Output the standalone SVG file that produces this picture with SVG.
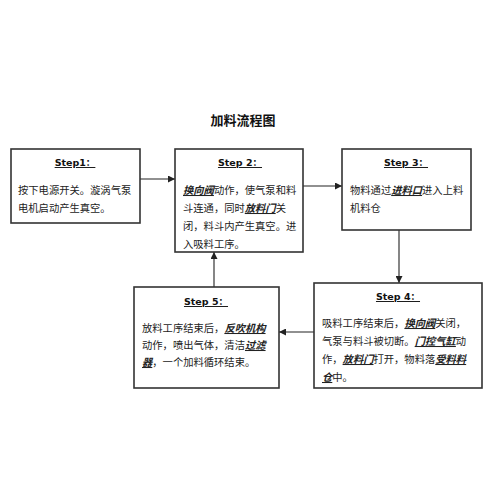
<svg xmlns="http://www.w3.org/2000/svg" width="500" height="500" viewBox="0 0 500 500">
<defs>
<marker id="ah" viewBox="0 0 10 10" refX="10" refY="5" markerWidth="7" markerHeight="7" orient="auto" markerUnits="userSpaceOnUse">
<path d="M0,0 L10,5 L0,10 z" fill="#222"/>
</marker>
<style>
.box{fill:#fff;stroke:#333;stroke-width:1.6}
.title{font-family:"Noto Sans CJK SC","Noto Sans",sans-serif;font-size:13px;font-weight:bold;fill:#111}
.step{font-family:"DejaVu Sans","Noto Sans CJK SC",sans-serif;font-size:9.5px;font-weight:bold;fill:#111;text-decoration:underline}
.body{font-family:"Noto Sans CJK SC","Noto Sans",sans-serif;font-size:10.3px;fill:#222}
.em{font-weight:bold;font-style:italic;text-decoration:underline}
.conn{stroke:#222;stroke-width:1.1;fill:none;marker-end:url(#ah)}
</style>
</defs>
<rect width="500" height="500" fill="#fff"/>
<text class="title" x="243" y="125" text-anchor="middle">加料流程图</text>

<g id="connectors">
<line class="conn" x1="140" y1="179" x2="175" y2="179"/>
<line class="conn" x1="303" y1="186" x2="342" y2="186"/>
<line class="conn" x1="399" y1="230" x2="399" y2="283"/>
<line class="conn" x1="314" y1="332" x2="279" y2="332"/>
<line class="conn" x1="214" y1="287" x2="214" y2="252"/>
</g>

<g id="step1">
<rect class="box" x="11" y="149" width="129" height="74"/>
<text class="step" x="75" y="166" text-anchor="middle">Step1：</text>
<text class="body" x="18" y="194">按下电源开关。漩涡气泵</text>
<text class="body" x="18" y="212">电机启动产生真空。</text>
</g>

<g id="step2">
<rect class="box" x="175" y="149" width="128" height="103"/>
<text class="step" x="240" y="166" text-anchor="middle">Step 2：</text>
<text class="body" x="183" y="194"><tspan class="em">换向阀</tspan>动作，使气泵和料</text>
<text class="body" x="183" y="212">斗连通，同时<tspan class="em">放料门</tspan>关</text>
<text class="body" x="183" y="230">闭，料斗内产生真空。进</text>
<text class="body" x="183" y="248">入吸料工序。</text>
</g>

<g id="step3">
<rect class="box" x="342" y="149" width="129" height="81"/>
<text class="step" x="406" y="166" text-anchor="middle">Step 3：</text>
<text class="body" x="350" y="194">物料通过<tspan class="em">进料口</tspan>进入上料</text>
<text class="body" x="350" y="212">机料仓</text>
</g>

<g id="step4">
<rect class="box" x="314" y="283" width="168" height="105"/>
<text class="step" x="398" y="300" text-anchor="middle">Step 4：</text>
<text class="body" x="322" y="327">吸料工序结束后，<tspan class="em">换向阀</tspan>关闭，</text>
<text class="body" x="322" y="345">气泵与料斗被切断。<tspan class="em">门控气缸</tspan>动</text>
<text class="body" x="322" y="363">作，<tspan class="em">放料门</tspan>打开，物料落<tspan class="em">受料料</tspan></text>
<text class="body" x="322" y="381"><tspan class="em">仓</tspan>中。</text>
</g>

<g id="step5">
<rect class="box" x="134" y="287" width="145" height="101"/>
<text class="step" x="206" y="305" text-anchor="middle">Step 5：</text>
<text class="body" x="142" y="332">放料工序结束后，<tspan class="em">反吹机构</tspan></text>
<text class="body" x="142" y="349">动作，喷出气体，清洁<tspan class="em">过滤</tspan></text>
<text class="body" x="142" y="366"><tspan class="em">器</tspan>，一个加料循环结束。</text>
</g>
</svg>
